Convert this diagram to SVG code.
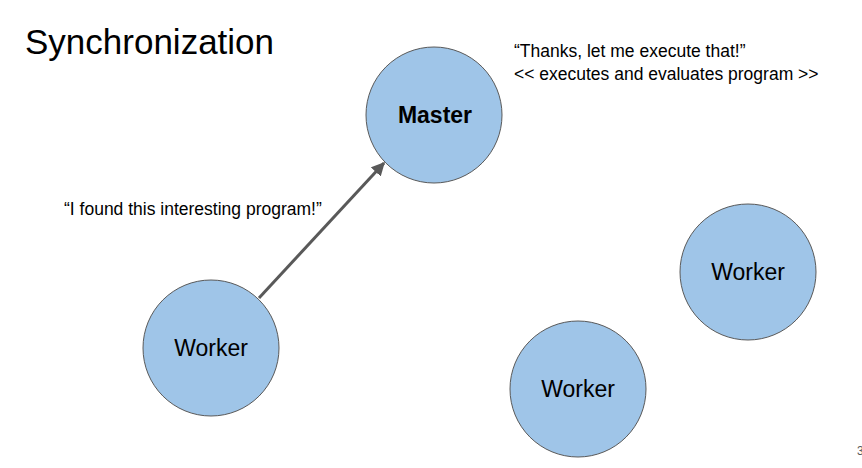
<svg xmlns="http://www.w3.org/2000/svg" width="862" height="468" viewBox="0 0 862 468">
  <style>
    .node circle { fill: #9fc5e8; stroke: #595959; stroke-width: 1; }
    .node text { font-family: "Liberation Sans", Arial, sans-serif; font-size: 23px; fill: #000; text-anchor: middle; }
    .note { font-family: "Liberation Sans", Arial, sans-serif; font-size: 17.5px; fill: #000; }
    .title { font-family: "Liberation Sans", Arial, sans-serif; font-size: 35px; fill: #000; }
    .edge { stroke: #595959; stroke-width: 3; fill: none; }
  </style>
  <defs>
    <marker id="arrow" viewBox="0 0 10 10" refX="9" refY="5" markerWidth="4.5" markerHeight="4.5" orient="auto" markerUnits="strokeWidth">
      <path d="M0,0 L10,5 L0,10 Z" fill="#595959"/>
    </marker>
  </defs>
  <rect width="862" height="468" fill="#fff"/>
  <text class="title" x="25" y="54">Synchronization</text>
  <text class="note" x="514" y="57">“Thanks, let me execute that!”</text>
  <text class="note" x="514" y="80">&lt;&lt; executes and evaluates program &gt;&gt;</text>
  <text class="note" x="64" y="215">“I found this interesting program!”</text>

  <g id="connectors">
    <line class="edge" x1="259" y1="298" x2="384" y2="163" marker-end="url(#arrow)"/>
  </g>

  <g id="master" class="node">
    <circle cx="434" cy="115" r="68"/>
    <text x="435" y="123" font-weight="bold">Master</text>
  </g>
  <g id="worker-left" class="node">
    <circle cx="211" cy="348" r="68"/>
    <text x="211" y="356">Worker</text>
  </g>
  <g id="worker-right" class="node">
    <circle cx="748" cy="272" r="68"/>
    <text x="748" y="280">Worker</text>
  </g>
  <g id="worker-bottom" class="node">
    <circle cx="578" cy="389" r="68"/>
    <text x="578" y="397">Worker</text>
  </g>

  <text x="857" y="455" font-family="Liberation Sans, Arial, sans-serif" font-size="12" fill="#595959">3</text>
</svg>
